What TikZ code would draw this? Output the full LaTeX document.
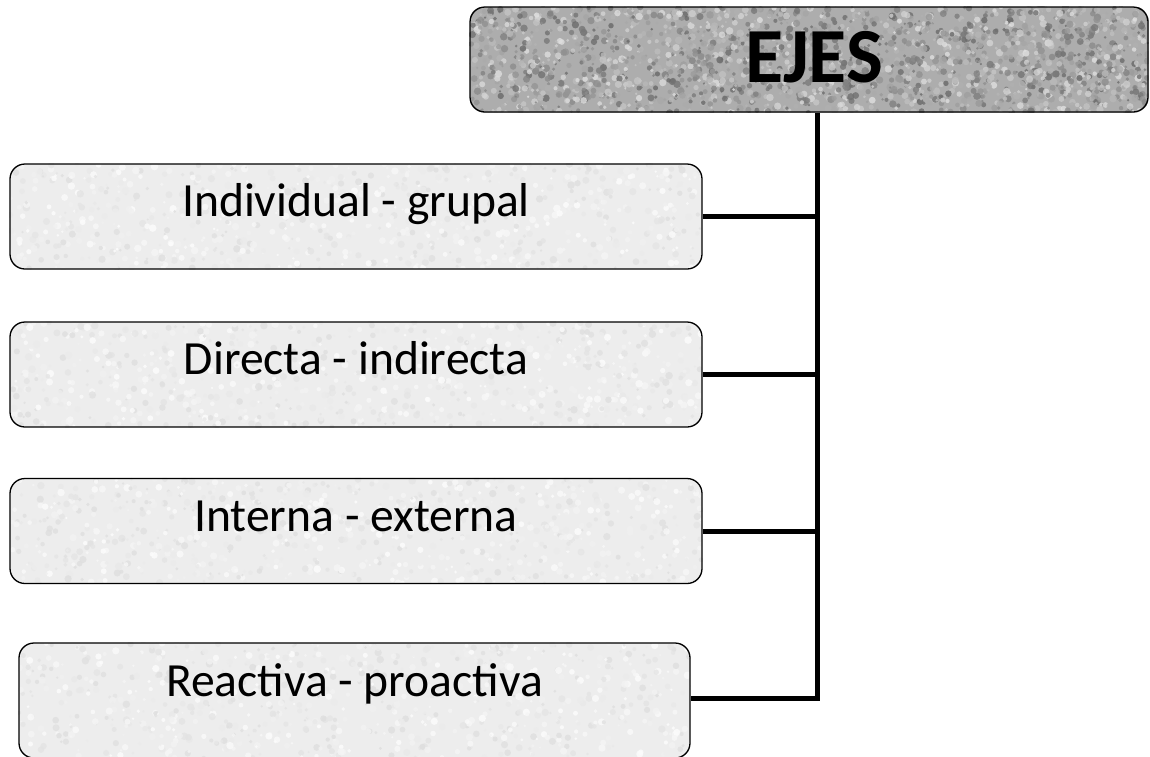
\documentclass[tikz,border=0pt]{standalone}
\usepackage{fontspec}
\setmainfont{Carlito}
\usetikzlibrary{backgrounds}
\pgfmathsetseed{4711}
% #1 x0, #2 y0, #3 w, #4 h, #5 base colour, #6 count, #7 min black, #8 black range
\newcommand\mytexture[8]{%
  \fill[#5] (#1,#2) rectangle ++(#3,#4);
  \foreach \k in {1,...,#6}{%
    \pgfmathsetmacro\px{#1+#3*rnd}%
    \pgfmathsetmacro\py{#2+#4*rnd}%
    \pgfmathsetmacro\pr{1.2+2.6*rnd}%
    \pgfmathtruncatemacro\pc{#7+#8*rnd}%
    \fill[black!\pc!white, opacity=0.8] (\px,\py) circle[radius=\pr];
  }%
}
\begin{document}
\begin{tikzpicture}[x=1pt,y=-1pt,
  box/.style={draw=black, line width=1.3pt, rounded corners=15pt,
    minimum width=692pt, minimum height=105pt, inner sep=0pt,
    font=\fontsize{47.6}{52}\selectfont, text height=16pt, text depth=16pt},
  conn/.style={line width=5pt, line join=miter}]
\useasboundingbox (0,0) rectangle (1150,756);
\begin{scope}
\clip (0,0) rectangle (1150,756);
\node[box, minimum width=678pt, font=\fontsize{78}{80}\selectfont\bfseries,
  text height=50pt, text depth=5pt] (ejes) at (809,59.5) {\hspace*{10pt}EJES};
\node[box] (b1) at (356,216.5) {Individual - grupal};
\node[box] (b2) at (356,374.5) {Directa - indirecta};
\node[box] (b3) at (356,531) {Interna - externa};
\node[box, minimum width=671pt, minimum height=115pt, text height=12pt, text depth=20pt] (b4) at (354.5,700.5) {Reactiva - proactiva};

\begin{pgfonlayer}{background}
  \begin{scope}
    \clip[rounded corners=15pt] (ejes.south west) rectangle (ejes.north east);
    \mytexture{470}{7}{680}{106}{black!32}{2200}{12}{48}
  \end{scope}
  \foreach \n/\xa/\ya/\w/\h in {b1/10/164/692/105, b2/10/322/692/105, b3/10/479/692/104, b4/19/643/671/115}{
    \begin{scope}
      \clip[rounded corners=15pt] (\n.south west) rectangle (\n.north east);
      \mytexture{\xa}{\ya}{\w}{\h}{black!7}{900}{1}{13}
    \end{scope}
  }
\end{pgfonlayer}

\coordinate (jb) at (817,698);
\draw[conn] (ejes.south -| jb) -- (jb) -- (b4.east |- jb);
\draw[conn] (b1.east) -- (b1.east -| jb);
\draw[conn] (b2.east) -- (b2.east -| jb);
\draw[conn] (b3.east) -- (b3.east -| jb);
\end{scope}
\end{tikzpicture}
\end{document}
